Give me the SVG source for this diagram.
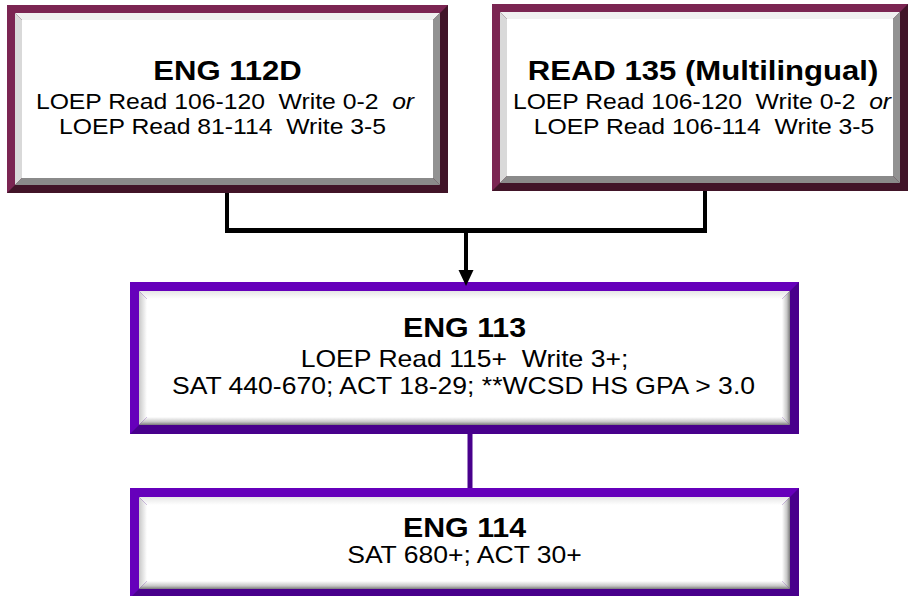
<svg xmlns="http://www.w3.org/2000/svg" width="909" height="596" viewBox="0 0 909 596">
<defs>
<linearGradient id="gB" x1="0" y1="0" x2="0" y2="1"><stop offset="0" stop-color="#ffffff"/><stop offset="0.6" stop-color="#c8c8c8"/><stop offset="1" stop-color="#7a7a7a"/></linearGradient>
<linearGradient id="gR" x1="0" y1="0" x2="1" y2="0"><stop offset="0" stop-color="#ffffff"/><stop offset="0.6" stop-color="#c8c8c8"/><stop offset="1" stop-color="#7a7a7a"/></linearGradient>
<linearGradient id="gL" x1="0" y1="0" x2="1" y2="0"><stop offset="0" stop-color="#c8c8c8"/><stop offset="1" stop-color="#ffffff"/></linearGradient>
<linearGradient id="gT" x1="0" y1="0" x2="0" y2="1"><stop offset="0" stop-color="#e6e6e6"/><stop offset="1" stop-color="#ffffff"/></linearGradient>
</defs>
<style>
.mD{fill:#411428}.mL{fill:#7b2552}
.pD{fill:#48008c}.pL{fill:#6600bb}
.bvT{fill:#f0f0f0}.bvL{fill:#d9d9d9}.bvB{fill:#8a8a8a}.bvR{fill:#929292}
.face{fill:#ffffff}
text{font-family:"Liberation Sans",Arial,sans-serif;fill:#000;text-anchor:middle;white-space:pre}
.t1{font-weight:bold;font-size:28px}
.b1{font-size:21.5px}
.t2{font-weight:bold;font-size:27px}
.b2{font-size:23px}
.conn{stroke:#000;fill:none}
</style>

<g id="eng112d">
<rect class="mD" x="7" y="5" width="441" height="188"/>
<polygon class="mL" points="7,5 448,5 440,13 15,13 15,185 7,193"/>
<polygon class="bvT" points="15,13 440,13 433,20 22,20"/>
<polygon class="bvL" points="15,13 22,20 22,178 15,185"/>
<polygon class="bvB" points="15,185 440,185 433,178 22,178"/>
<polygon class="bvR" points="440,13 440,185 433,178 433,20"/>
<rect class="face" x="22" y="20" width="411" height="158"/>
<text class="t1" transform="translate(227.5,80) scale(1.11,1)">ENG 112D</text>
<text class="b1" transform="translate(225,109) scale(1.15,1)" xml:space="preserve">LOEP Read 106-120  Write 0-2  <tspan font-style="italic">or</tspan></text>
<text class="b1" transform="translate(222.5,134) scale(1.15,1)" xml:space="preserve">LOEP Read 81-114  Write 3-5</text>
</g>

<g id="read135">
<rect class="mD" x="492" y="4" width="416" height="187"/>
<polygon class="mL" points="492,4 908,4 900,12 500,12 500,183 492,191"/>
<polygon class="bvT" points="500,12 900,12 893,19 507,19"/>
<polygon class="bvL" points="500,12 507,19 507,176 500,183"/>
<polygon class="bvB" points="500,183 900,183 893,176 507,176"/>
<polygon class="bvR" points="900,12 900,183 893,176 893,19"/>
<rect class="face" x="507" y="19" width="386" height="157"/>
<text class="t1" transform="translate(703,80) scale(1.11,1)">READ 135 (Multilingual)</text>
<text class="b1" transform="translate(702,109) scale(1.15,1)" xml:space="preserve">LOEP Read 106-120  Write 0-2  <tspan font-style="italic">or</tspan></text>
<text class="b1" transform="translate(704,134) scale(1.15,1)" xml:space="preserve">LOEP Read 106-114  Write 3-5</text>
</g>

<g id="eng113">
<rect class="pD" x="130" y="282" width="669" height="152"/>
<polygon class="pL" points="130,282 799,282 790,291 139,291 139,425 130,434"/>
<polygon fill="url(#gT)" points="139,291 790,291 782,299 147,299"/>
<polygon fill="url(#gL)" points="139,291 147,299 147,417 139,425"/>
<polygon fill="url(#gB)" points="139,425 790,425 782,417 147,417"/>
<polygon fill="url(#gR)" points="790,291 790,425 782,417 782,299"/>
<rect class="face" x="147" y="299" width="635" height="118"/>
<text class="t2" transform="translate(464.5,337) scale(1.125,1)">ENG 113</text>
<text class="b2" transform="translate(464.5,367) scale(1.155,1)" xml:space="preserve">LOEP Read 115+  Write 3+;</text>
<text class="b2" transform="translate(463.5,394) scale(1.155,1)">SAT 440-670; ACT 18-29; **WCSD HS GPA &gt; 3.0</text>
</g>

<g id="eng114">
<rect class="pD" x="130" y="488" width="669" height="110"/>
<polygon class="pL" points="130,488 799,488 790,497 139,497 139,589 130,598"/>
<polygon fill="url(#gT)" points="139,497 790,497 782,505 147,505"/>
<polygon fill="url(#gL)" points="139,497 147,505 147,581 139,589"/>
<polygon fill="url(#gB)" points="139,589 790,589 782,581 147,581"/>
<polygon fill="url(#gR)" points="790,497 790,589 782,581 782,505"/>
<rect class="face" x="147" y="505" width="635" height="76"/>
<text class="t2" transform="translate(464.5,537) scale(1.125,1)">ENG 114</text>
<text class="b2" transform="translate(464.5,563) scale(1.155,1)">SAT 680+; ACT 30+</text>
</g>

<g id="connectors">
<path class="conn" stroke-width="4" d="M227,193 V231"/>
<path class="conn" stroke-width="4" d="M705,191 V231"/>
<path class="conn" stroke-width="5" d="M225,230.5 H707"/>
<path class="conn" stroke-width="4" d="M466,230 V272"/>
<polygon fill="#000" points="458.5,270 473.5,270 466,286"/>
<path stroke="#48008c" stroke-width="5" fill="none" d="M470,434 V488"/>
</g>
</svg>
